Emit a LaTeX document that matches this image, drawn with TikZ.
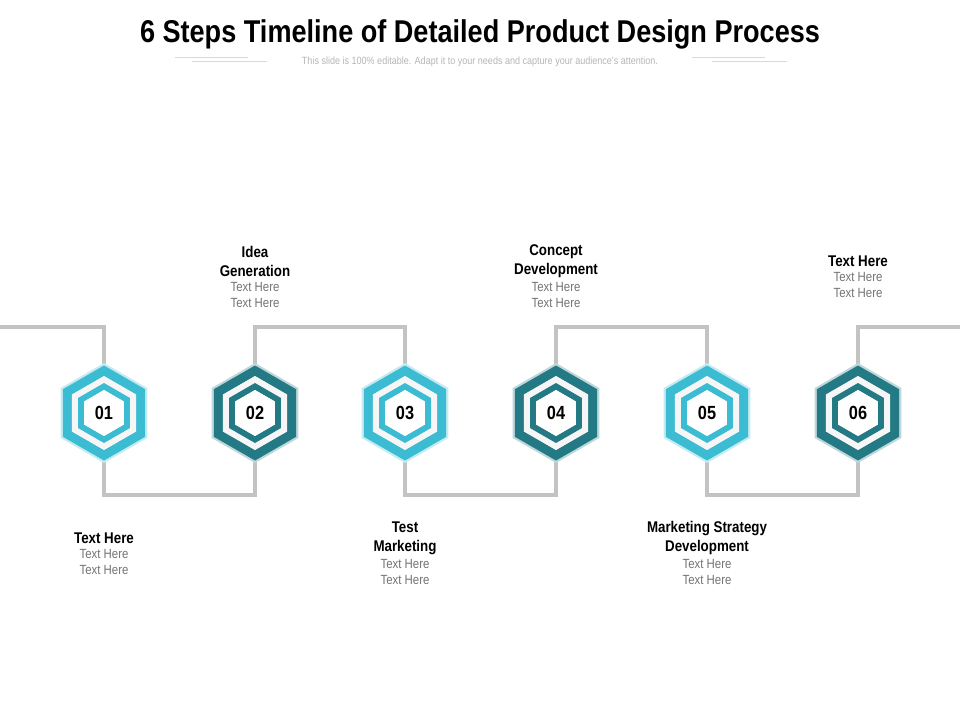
\documentclass[tikz,border=0pt]{standalone}
\usepackage{fontspec}
\setmainfont{Liberation Sans}[FakeStretch=0.86]
\definecolor{lite}{HTML}{3BBCD2}
\definecolor{dark}{HTML}{237A84}
\definecolor{conn}{HTML}{C3C3C3}
\definecolor{sub}{HTML}{B5B5B5}
\begin{document}
\begin{tikzpicture}[x=1pt,y=-1pt,
  conline/.style={conn,line width=4pt},
  lbl/.style={align=center,font=\fontsize{15.5}{19}\selectfont\bfseries},
  gry/.style={text=gray!90!black,font=\fontsize{13.3}{16}\selectfont}]
\useasboundingbox (0,0) rectangle (960,720);
\node[font=\fontsize{31.5}{34}\selectfont\bfseries] (title) at (480,34) {6 Steps Timeline of Detailed Product Design Process};
\node[text=sub,font=\fontsize{10.5}{11}\selectfont] (subt) at (480,62) {This slide is 100\% editable. Adapt it to your needs and capture your audience's attention.};
\draw[black!15] (175,57)--(248,57) (192,61)--(267,61) (692,57)--(765,57) (712,61)--(787,61);
\foreach \i/\x/\c in {1/104/lite,2/255/dark,3/405/lite,4/556/dark,5/707/lite,6/858/dark}{
  \coordinate (h\i) at (\x,413);
  \coordinate (t\i) at (\x,365);
  \coordinate (b\i) at (\x,461);
}
\coordinate (lft) at (0,327);
\coordinate (rgt) at (960,327);
\draw[conline] (lft) -- (104,327) -- (t1);
\draw[conline] (t2) -- (255,327) -- (405,327) -- (t3);
\draw[conline] (t4) -- (556,327) -- (707,327) -- (t5);
\draw[conline] (t6) -- (858,327) -- (rgt);
\draw[conline] (b1) -- (104,495) -- (255,495) -- (b2);
\draw[conline] (b3) -- (405,495) -- (556,495) -- (b4);
\draw[conline] (b5) -- (707,495) -- (858,495) -- (b6);
\foreach \i/\c in {1/lite,2/dark,3/lite,4/dark,5/lite,6/dark}{
  \fill[\c!30!white] (h\i) ++(90:50) -- ++(210:50) -- ++(270:50) -- ++(330:50) -- ++(30:50) -- ++(90:50) -- cycle;
  \fill[\c,even odd rule] (h\i) ++(90:47.5) -- ++(210:47.5) -- ++(270:47.5) -- ++(330:47.5) -- ++(30:47.5) -- ++(90:47.5) -- cycle
     (h\i) ++(90:37) -- ++(210:37) -- ++(270:37) -- ++(330:37) -- ++(30:37) -- ++(90:37) -- cycle;
  \fill[white!93!gray] (h\i) ++(90:37) -- ++(210:37) -- ++(270:37) -- ++(330:37) -- ++(30:37) -- ++(90:37) -- cycle;
  \fill[\c,even odd rule] (h\i) ++(90:30) -- ++(210:30) -- ++(270:30) -- ++(330:30) -- ++(30:30) -- ++(90:30) -- cycle
     (h\i) ++(90:23) -- ++(210:23) -- ++(270:23) -- ++(330:23) -- ++(30:23) -- ++(90:23) -- cycle;
  \fill[white] (h\i) ++(90:23) -- ++(210:23) -- ++(270:23) -- ++(330:23) -- ++(30:23) -- ++(90:23) -- cycle;
  \node[font=\fontsize{19}{20}\selectfont\bfseries] (n\i) at (h\i) {0\i};
}
\node[lbl] (l2) at (255,261) {Idea\\Generation};
\node[gry,align=center] (g2) at (255,295) {Text Here\\Text Here};
\node[lbl] (l4) at (556,261) {Concept\\Development};
\node[gry,align=center] (g4) at (556,295) {Text Here\\Text Here};
\node[lbl] (l6) at (858,261) {Text Here};
\node[gry,align=center] (g6) at (858,285) {Text Here\\Text Here};
\node[lbl] (l1) at (104,538) {Text Here};
\node[gry,align=center] (g1) at (104,562) {Text Here\\Text Here};
\node[lbl] (l3) at (405,538) {Test\\Marketing};
\node[gry,align=center] (g3) at (405,572) {Text Here\\Text Here};
\node[lbl] (l5) at (707,538) {Marketing Strategy\\Development};
\node[gry,align=center] (g5) at (707,572) {Text Here\\Text Here};
\end{tikzpicture}
\end{document}
